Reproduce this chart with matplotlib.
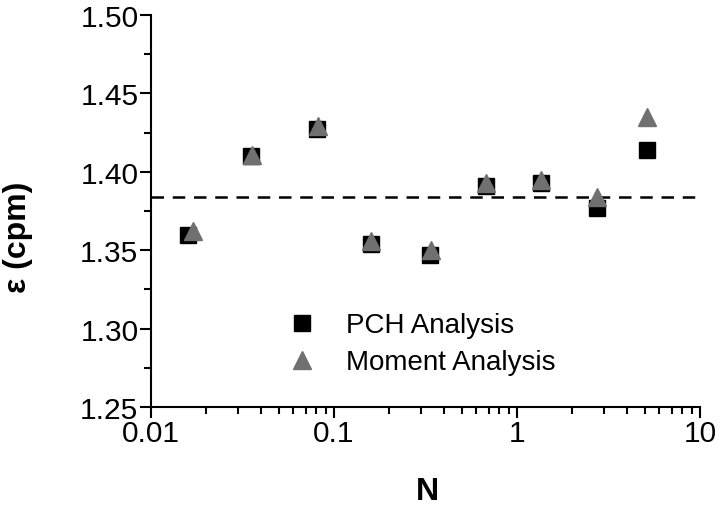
import matplotlib
matplotlib.use("Agg")
import matplotlib.pyplot as plt
from matplotlib.ticker import FixedLocator, FixedFormatter, LogLocator, NullFormatter, MultipleLocator, FormatStrFormatter

plt.rcParams['font.family'] = ['Liberation Sans', 'DejaVu Sans']

N_pch = [0.016, 0.035, 0.081, 0.159, 0.335, 0.677, 1.35, 2.74, 5.15]
eps_pch = [1.360, 1.410, 1.427, 1.354, 1.347, 1.391, 1.393, 1.377, 1.414]
N_mom = [0.017, 0.0355, 0.082, 0.160, 0.337, 0.680, 1.36, 2.75, 5.15]
eps_mom = [1.362, 1.411, 1.429, 1.356, 1.350, 1.393, 1.395, 1.384, 1.435]
eps_ref = 1.384
xticks = [0.01, 0.1, 1, 10]
xticklabels = ["0.01", "0.1", "1", "10"]

fig = plt.figure(figsize=(7.2, 5.06), dpi=100)
ax = fig.add_axes([0.2097, 0.1937, 0.7625, 0.7747])

ax.axhline(eps_ref, color='black', lw=1.8, ls=(0, (5, 3.5)), zorder=1)
ax.plot(N_pch, eps_pch, ls='none', marker='s', ms=11, color='black', label='PCH Analysis', zorder=2)
ax.plot(N_mom, eps_mom, ls='none', marker='^', ms=13, color='#707070', label='Moment Analysis', zorder=3)

ax.set_xscale('log')
ax.set_xlim(0.01, 10)
ax.set_ylim(1.25, 1.50)
ax.xaxis.set_major_locator(FixedLocator(xticks))
ax.xaxis.set_major_formatter(FixedFormatter(xticklabels))
ax.xaxis.set_minor_locator(LogLocator(base=10, subs=range(2, 10)))
ax.xaxis.set_minor_formatter(NullFormatter())
ax.yaxis.set_major_locator(MultipleLocator(0.05))
ax.yaxis.set_minor_locator(MultipleLocator(0.025))
ax.yaxis.set_major_formatter(FormatStrFormatter('%.2f'))

for s in ['top', 'right']:
    ax.spines[s].set_visible(False)
for s in ['left', 'bottom']:
    ax.spines[s].set_linewidth(1.5)

ax.tick_params(which='major', direction='out', length=8, width=1.5, labelsize=21.5, pad=1)
ax.tick_params(which='minor', direction='out', length=5, width=1.5)

ax.set_xlabel('N', fontsize=23, fontweight='bold')
ax.set_ylabel('ε (cpm)', fontsize=23, fontweight='bold')
ax.xaxis.set_label_coords(0.503, -0.176)
ax.yaxis.set_label_coords(-0.215, 0.436)

leg = ax.legend(loc='upper left', bbox_to_anchor=(0.216, 0.27), frameon=False, fontsize=20,
                handletextpad=0.85, labelspacing=0.4, handlelength=1.5, borderaxespad=0)

fig.savefig('out.png', dpi=100)
